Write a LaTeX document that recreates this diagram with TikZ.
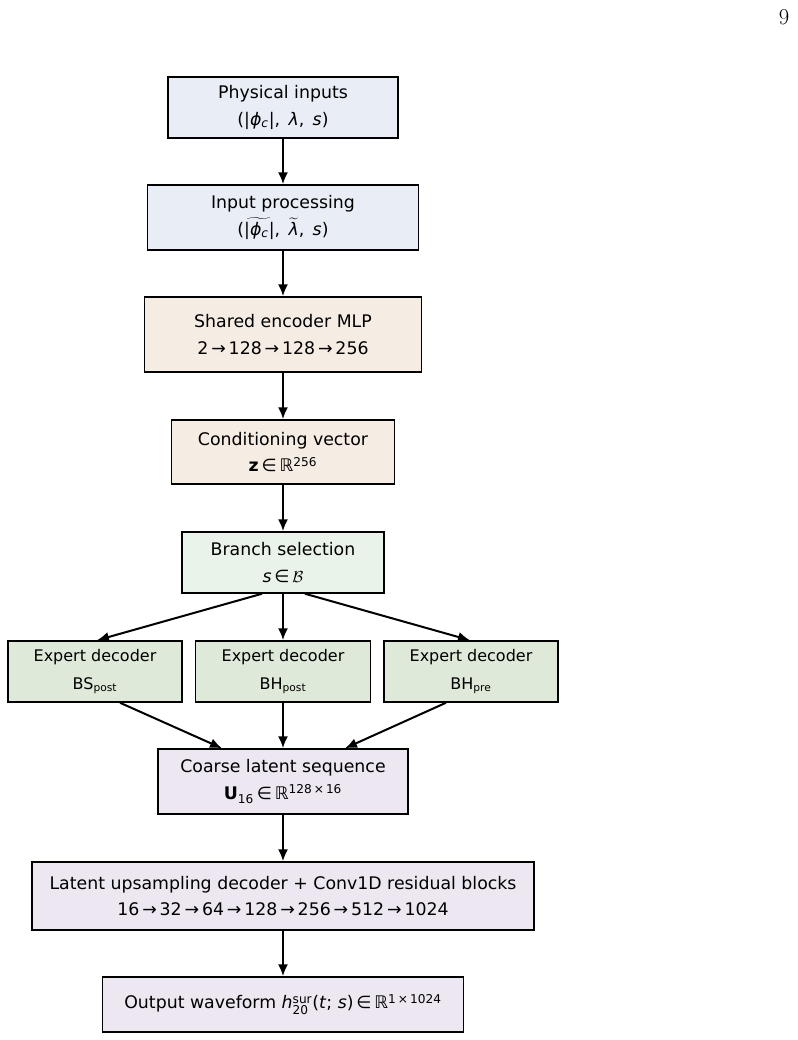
\documentclass[tikz,border=0pt]{standalone}
\usepackage{fontspec}
\usepackage{amsmath}
\setmainfont{DejaVu Sans}
\newfontfamily\pagefont{Latin Modern Roman}
\usetikzlibrary{positioning, calc, arrows.meta}

\definecolor{inblue}{HTML}{E9EDF6}
\definecolor{encbeige}{HTML}{F5ECE3}
\definecolor{selgreen}{HTML}{E9F3E9}
\definecolor{expgreen}{HTML}{DFE9D9}
\definecolor{declav}{HTML}{EDE7F1}

\def\px{0.75pt}
\newcommand{\phic}{\textit{\char"03D5}\textsubscript{\textit{c}}}
\newcommand{\lam}{\textit{\char"03BB}}

\begin{document}
\begin{tikzpicture}[x=\px, y=-\px, >={Latex[length=9pt, width=7.5pt]},
    blk/.style={draw, line width=1.1pt, inner sep=0pt, align=center,
        font=\fontsize{13}{20}\selectfont},
    expert/.style={blk, fill=expgreen, minimum width=174*\px, minimum height=61*\px,
        font=\fontsize{12}{21}\selectfont},
    flow/.style={->, line width=1.5pt}]

    \useasboundingbox (0,0) rectangle (797,1040);

    % Page number
    \node[font=\pagefont\fontsize{17}{20}\selectfont] (pagenum) at (784,17) {9};

    % Input stage
    \node[blk, fill=inblue, minimum width=230*\px, minimum height=61*\px] (phys) at (283,107.5)
        {Physical inputs\\(|\phic|,\, \lam,\, \textit{s})};
    \node[blk, fill=inblue, minimum width=271*\px, minimum height=65*\px] (proc) at (283,217.5)
        {Input processing\\($\widetilde{\text{|\phic|}}$,\, $\widetilde{\text{\lam}}$,\, \textit{s})};

    % Encoder
    \node[blk, fill=encbeige, minimum width=277*\px, minimum height=75*\px] (enc) at (283,334.5)
        {Shared encoder MLP\\2\,→\,128\,→\,128\,→\,256};
    \node[blk, fill=encbeige, minimum width=223*\px, minimum height=64*\px] (cond) at (283,452)
        {Conditioning vector\\\textbf{z}\,∈\,ℝ\textsuperscript{256}};

    % Branch selection and experts
    \node[blk, fill=selgreen, minimum width=202*\px, minimum height=61*\px] (branch) at (283,562.5)
        {Branch selection\\\textit{s}\,∈\,$\mathcal{B}$};
    \node[expert] (expBS) at (95,671.5) {Expert decoder\\BS\textsubscript{post}};
    \node[expert, minimum width=175*\px] (expBHpost) at (283,671.5) {Expert decoder\\BH\textsubscript{post}};
    \node[expert] (expBHpre) at (471,671.5) {Expert decoder\\BH\textsubscript{pre}};

    % Decoder
    \node[blk, fill=declav, minimum width=250*\px, minimum height=65*\px] (coarse) at (283,781.5)
        {Coarse latent sequence\\\textbf{U}\textsubscript{16}\,∈\,ℝ\textsuperscript{128\,×\,16}};
    \node[blk, fill=declav, minimum width=502*\px, minimum height=68*\px] (upsamp) at (283,896)
        {Latent upsampling decoder + Conv1D residual blocks\\16\,→\,32\,→\,64\,→\,128\,→\,256\,→\,512\,→\,1024};
    \node[blk, fill=declav, minimum width=361*\px, minimum height=55*\px] (out) at (283,1004.5)
        {Output waveform \textit{h}$^{\text{sur}}_{\text{20}}$(\textit{t}; \textit{s})\,∈\,ℝ\textsuperscript{1\,×\,1024}};

    % Main chain
    \draw[flow] (phys) -- (proc);
    \draw[flow] (proc) -- (enc);
    \draw[flow] (enc) -- (cond);
    \draw[flow] (cond) -- (branch);

    % Fan out to experts
    \draw[flow] ([xshift=-21*\px]branch.south) -- ([xshift=2*\px]expBS.north);
    \draw[flow] (branch) -- (expBHpost);
    \draw[flow] ([xshift=22*\px]branch.south) -- ([xshift=-1*\px]expBHpre.north);

    % Fan in to coarse sequence
    \draw[flow] ([xshift=25*\px]expBS.south) -- ([xshift=-61*\px]coarse.north);
    \draw[flow] (expBHpost) -- (coarse);
    \draw[flow] ([xshift=-25*\px]expBHpre.south) -- ([xshift=62*\px]coarse.north);

    \draw[flow] (coarse) -- (upsamp);
    \draw[flow] (upsamp) -- (out);

\end{tikzpicture}
\end{document}
